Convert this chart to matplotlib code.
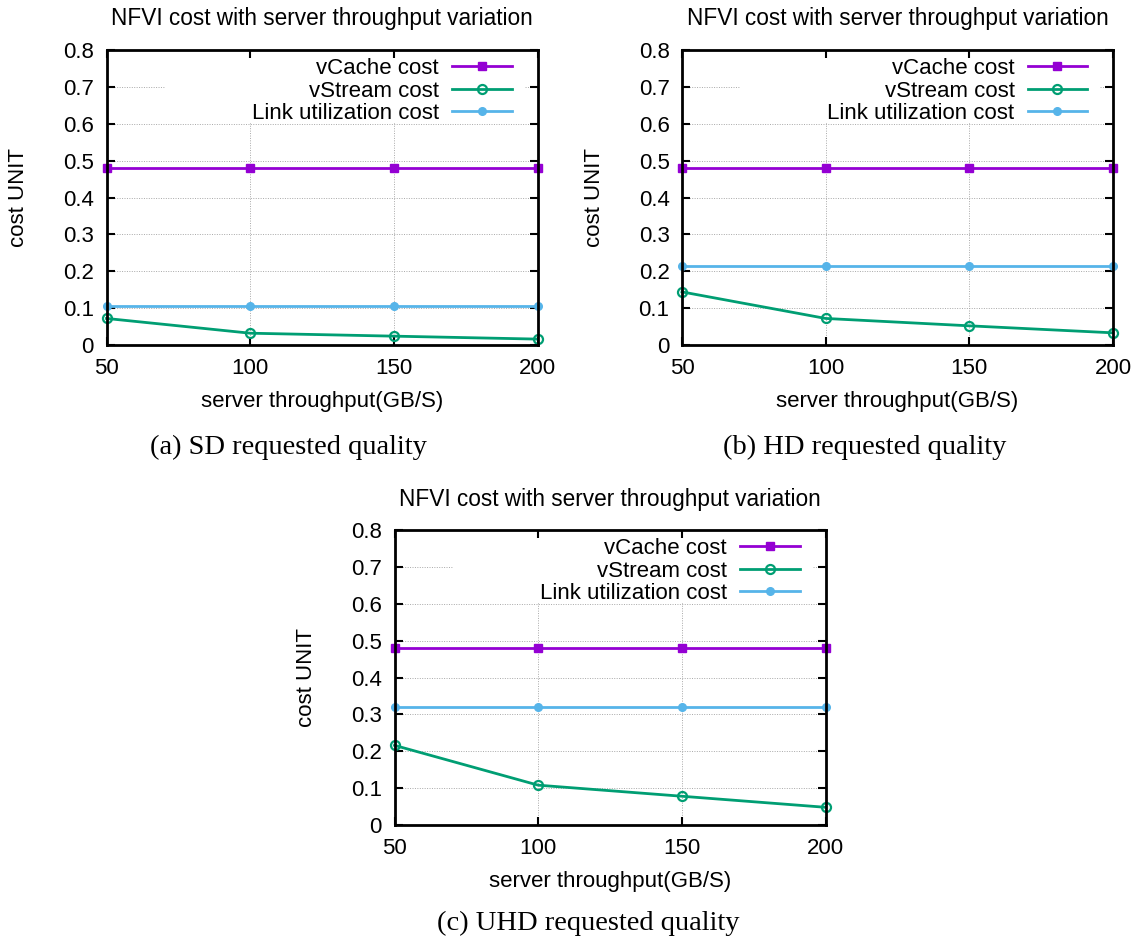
import matplotlib
matplotlib.use("Agg")
import matplotlib.pyplot as plt
from matplotlib.patches import Rectangle

plt.rcParams['font.family'] = ['Liberation Sans', 'DejaVu Sans']

# ---- data ----
throughput = [50, 100, 150, 200]
vcache_sd = [0.48, 0.48, 0.48, 0.48]
vstream_sd = [0.072, 0.032, 0.024, 0.016]
link_sd = [0.107, 0.107, 0.107, 0.107]

vcache_hd = [0.48, 0.48, 0.48, 0.48]
vstream_hd = [0.144, 0.072, 0.052, 0.033]
link_hd = [0.214, 0.214, 0.214, 0.214]

vcache_uhd = [0.48, 0.48, 0.48, 0.48]
vstream_uhd = [0.216, 0.108, 0.078, 0.048]
link_uhd = [0.32, 0.32, 0.32, 0.32]

y_ticks = [0, 0.1, 0.2, 0.3, 0.4, 0.5, 0.6, 0.7, 0.8]
y_ticklabels = ['0', '0.1', '0.2', '0.3', '0.4', '0.5', '0.6', '0.7', '0.8']
series_labels = ['vCache cost', 'vStream cost', 'Link utilization cost']
title_text = 'NFVI cost with server throughput variation'
xlabel_text = 'server throughput(GB/S)'
ylabel_text = 'cost UNIT'
captions = ['(a) SD requested quality', '(b) HD requested quality', '(c) UHD requested quality']

# ---- layout (pixels) ----
W, H = 1143, 942
fig = plt.figure(figsize=(W / 100, H / 100), dpi=100)

AW, AH = 431, 295
panels = [
    dict(left=106.5, top=50, data=(vcache_sd, vstream_sd, link_sd), cap_x=288, cap_y=447),
    dict(left=682, top=50, data=(vcache_hd, vstream_hd, link_hd), cap_x=865, cap_y=447),
    dict(left=394.5, top=530, data=(vcache_uhd, vstream_uhd, link_uhd), cap_x=588, cap_y=923),
]

C_PURPLE = '#9400D3'
C_GREEN = '#009E73'
C_BLUE = '#56B4E9'
FS = 16

for i, p in enumerate(panels):
    ax = fig.add_axes([p['left'] / W, 1 - (p['top'] + AH) / H, AW / W, AH / H])
    vc, vs, lk = p['data']
    ax.plot(throughput, vc, color=C_PURPLE, lw=2.0, marker='s', ms=6,
            label=series_labels[0], clip_on=False, zorder=3)
    ax.plot(throughput, vs, color=C_GREEN, lw=2.0, marker='o', ms=6.5,
            mfc='none', mew=1.6, label=series_labels[1], clip_on=False, zorder=3)
    ax.plot(throughput, lk, color=C_BLUE, lw=2.0, marker='o', ms=5.5,
            label=series_labels[2], clip_on=False, zorder=3)

    ax.set_xlim(50, 200)
    ax.set_ylim(0, 0.8)
    ax.set_xticks(throughput)
    ax.set_xticklabels([str(t) for t in throughput])
    ax.set_yticks(y_ticks)
    ax.set_yticklabels(y_ticklabels)
    ax.set_axisbelow(True)
    ax.grid(True, color='#a8a8a8', lw=0.7, linestyle=(0, (1, 1.5)))
    ax.tick_params(direction='in', length=6, width=1.5, labelsize=FS,
                   top=True, right=True, pad=9)
    for s in ax.spines.values():
        s.set_linewidth(2)
        s.set_color('black')
        s.set_zorder(4)

    # opaque key area (gnuplot key box hides the grid behind it)
    ax.add_patch(Rectangle((58 / AW, 1 - 72 / AH), (AW - 13 - 58) / AW,
                           (72 - 8) / AH, transform=ax.transAxes,
                           facecolor='white', edgecolor='none', zorder=1))

    leg = ax.legend(loc='upper right', bbox_to_anchor=(1 - 26 / AW, 1 - 8 / AH),
                    frameon=False, markerfirst=False, fontsize=FS,
                    borderpad=0, borderaxespad=0, handlelength=2.66,
                    handletextpad=0.6, labelspacing=0.07)
    leg.set_zorder(5)

    ax.set_title(title_text, fontsize=16.3, y=1 + 31 / AH, va='center', pad=0)
    ax.set_xlabel(xlabel_text, fontsize=FS, va='center')
    ax.xaxis.set_label_coords(0.5, -57 / AH)
    ax.set_ylabel(ylabel_text, fontsize=FS, va='center')
    ax.yaxis.set_label_coords(-88 / AW, 0.5)

    fig.text(p['cap_x'] / W, 1 - p['cap_y'] / H, captions[i],
             fontsize=20.5, family=['Liberation Serif', 'DejaVu Serif'],
             ha='center', va='center')

fig.savefig('out.png', dpi=100)
